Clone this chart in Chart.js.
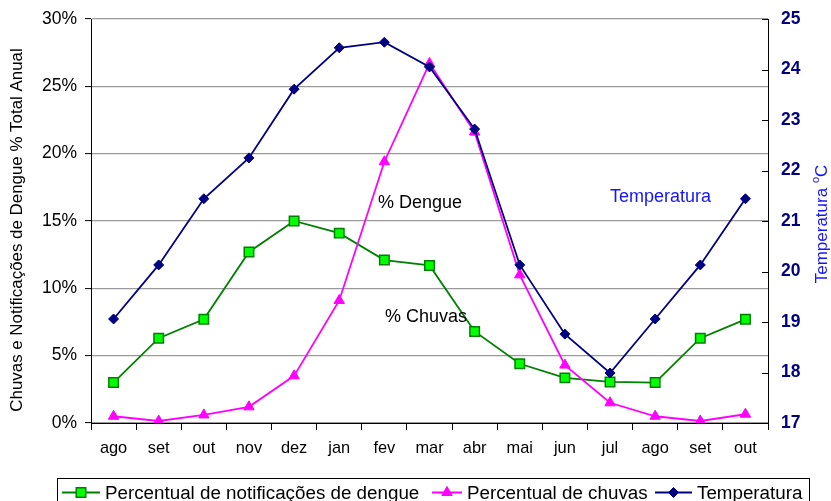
<!DOCTYPE html>
<html>
<head>
<meta charset="utf-8">
<script src="https://cdn.jsdelivr.net/npm/chart.js@4/dist/chart.umd.min.js"></script>
<style>
  html, body { margin: 0; padding: 0; background: #ffffff; }
  #wrap { width: 831px; height: 501px; position: relative; }
</style>
</head>
<body>
<div id="wrap"><canvas id="chart" width="831" height="501"></canvas></div>
<script>
// Months from August to October of the following year
const months = ['ago', 'set', 'out', 'nov', 'dez', 'jan', 'fev', 'mar', 'abr', 'mai', 'jun', 'jul', 'ago', 'set', 'out'];

// Share of the yearly total (%)
const dengue = [3.0, 6.3, 7.7, 12.7, 15.0, 14.1, 12.1, 11.7, 6.8, 4.4, 3.35, 3.05, 3.0, 6.3, 7.7];
const chuvas = [0.5, 0.15, 0.6, 1.2, 3.5, 9.1, 19.4, 26.7, 21.6, 11.0, 4.3, 1.5, 0.5, 0.15, 0.65];

// Mean monthly temperature (°C)
const temperatura = [19.06, 20.13, 21.44, 22.25, 23.61, 24.43, 24.54, 24.05, 22.82, 20.13, 18.76, 17.99, 19.06, 20.13, 21.44];

// Axis ranges
const pctRange = [0, 30, 5];
const tempRange = [17, 25, 1];

const seriesNames = ['Percentual de notificações de dengue', 'Percentual de chuvas', 'Temperatura'];

const FONT = "'Liberation Sans', Arial, sans-serif";
const GREEN = '#008000', LIME = '#00ff00', MAGENTA = '#ff00ff', NAVY = '#000080', BLUE = '#1414ff';

// Draws a series marker the same way the chart does
function marker(ctx, style, x, y, r, fill, stroke, lw) {
  ctx.save();
  ctx.fillStyle = fill; ctx.strokeStyle = stroke; ctx.lineWidth = lw;
  Chart.helpers.drawPoint(ctx, { pointStyle: style, rotation: 0, radius: r, borderWidth: lw }, x, y);
  ctx.restore();
}

// Keeps the plot box fixed: no extra room reserved for half-labels
function noPad(s) {
  s.paddingTop = 0; s.paddingBottom = 0; s.paddingLeft = 0; s.paddingRight = 0;
}

const extras = {
  id: 'extras',
  afterDraw(chart) {
    const ctx = chart.ctx;
    const area = chart.chartArea;
    const y1 = chart.scales.y1;

    // inner tick marks on the temperature axis
    ctx.save();
    ctx.strokeStyle = '#000'; ctx.lineWidth = 1;
    y1.ticks.forEach(t => {
      const py = Math.round(y1.getPixelForValue(t.value)) + 0.5;
      ctx.beginPath(); ctx.moveTo(area.right - 6, py); ctx.lineTo(area.right + 1, py); ctx.stroke();
    });
    ctx.restore();

    // left axis title, reading upwards
    ctx.save();
    ctx.translate(17, 230);
    ctx.rotate(-Math.PI / 2);
    ctx.fillStyle = '#000';
    ctx.textAlign = 'center';
    ctx.textBaseline = 'middle';
    ctx.font = '16.9px ' + FONT;
    ctx.fillText('Chuvas e Notificações de Dengue % Total Anual', 0, 0);
    ctx.restore();

    // temperature axis title, reading upwards
    ctx.save();
    ctx.translate(822, 224);
    ctx.rotate(-Math.PI / 2);
    ctx.fillStyle = BLUE;
    ctx.textBaseline = 'middle';
    ctx.font = '17px ' + FONT;
    const base = 'Temperatura ';
    const wBase = ctx.measureText(base).width;
    ctx.font = '11px ' + FONT;
    const wO = ctx.measureText('o').width;
    ctx.font = '17px ' + FONT;
    const wC = ctx.measureText('C').width;
    const sx = -(wBase + wO + wC) / 2;
    ctx.textAlign = 'left';
    ctx.fillText(base, sx, 0);
    ctx.font = '11px ' + FONT;
    ctx.fillText('o', sx + wBase, -6);
    ctx.font = '17px ' + FONT;
    ctx.fillText('C', sx + wBase + wO, 0);
    ctx.restore();

    // series captions inside the plot
    ctx.save();
    ctx.font = '18px ' + FONT;
    ctx.textAlign = 'left';
    ctx.textBaseline = 'alphabetic';
    ctx.fillStyle = '#000';
    ctx.fillText('% Dengue', 378, 208);
    ctx.fillText('% Chuvas', 385, 322);
    ctx.fillStyle = BLUE;
    ctx.fillText('Temperatura', 610, 202);
    ctx.restore();

    // legend
    ctx.save();
    ctx.strokeStyle = '#000'; ctx.lineWidth = 1;
    ctx.strokeRect(57.5, 478.5, 752, 30);
    ctx.font = '18.8px ' + FONT;
    ctx.textBaseline = 'middle';
    const ly = 492.5;
    const items = [
      { color: GREEN, style: 'rect', r: 6.7, fill: LIME, stroke: GREEN, lw: 1.5, x0: 62, x1: 100, tx: 105 },
      { color: MAGENTA, style: 'triangle', r: 6, fill: MAGENTA, stroke: MAGENTA, lw: 1, x0: 432, x1: 462, tx: 467 },
      { color: NAVY, style: 'rectRot', r: 5, fill: NAVY, stroke: NAVY, lw: 1, x0: 655, x1: 692, tx: 697 }
    ];
    items.forEach((it, i) => {
      ctx.strokeStyle = it.color; ctx.lineWidth = 2;
      ctx.beginPath(); ctx.moveTo(it.x0, ly); ctx.lineTo(it.x1, ly); ctx.stroke();
      marker(ctx, it.style, (it.x0 + it.x1) / 2, ly, it.r, it.fill, it.stroke, it.lw);
      ctx.fillStyle = '#000';
      ctx.fillText(seriesNames[i], it.tx, ly + 1);
    });
    ctx.restore();
  }
};

new Chart(document.getElementById('chart'), {
  type: 'line',
  data: {
    labels: months,
    datasets: [
      {
        label: seriesNames[0], data: dengue, yAxisID: 'y',
        borderColor: GREEN, borderWidth: 1.8, backgroundColor: LIME,
        pointStyle: 'rect', pointRadius: 6.7, pointBorderColor: GREEN, pointBorderWidth: 1.5,
        pointBackgroundColor: LIME, tension: 0, order: 3
      },
      {
        label: seriesNames[1], data: chuvas, yAxisID: 'y',
        borderColor: MAGENTA, borderWidth: 1.8, backgroundColor: MAGENTA,
        pointStyle: 'triangle', pointRadius: 6, pointBorderColor: MAGENTA, pointBorderWidth: 1,
        pointBackgroundColor: MAGENTA, tension: 0, order: 2
      },
      {
        label: seriesNames[2], data: temperatura, yAxisID: 'y1',
        borderColor: NAVY, borderWidth: 1.8, backgroundColor: NAVY,
        pointStyle: 'rectRot', pointRadius: 5, pointBorderColor: NAVY, pointBorderWidth: 1,
        pointBackgroundColor: NAVY, tension: 0, order: 1
      }
    ]
  },
  options: {
    responsive: false,
    animation: false,
    devicePixelRatio: 1,
    layout: { padding: { top: 19, left: 0, right: 0, bottom: 0 } },
    plugins: { legend: { display: false }, tooltip: { enabled: false } },
    scales: {
      x: {
        offset: true,
        grid: { offset: true, drawOnChartArea: false, drawTicks: true, tickLength: 7, tickColor: '#000' },
        border: { color: '#000', width: 1 },
        ticks: { color: '#000', font: { family: FONT, size: 16.4 }, padding: 9, maxRotation: 0, autoSkip: false },
        afterFit: s => { s.height = 78; noPad(s); }
      },
      y: {
        position: 'left',
        min: pctRange[0], max: pctRange[1],
        ticks: { stepSize: pctRange[2], color: '#000', font: { family: FONT, size: 17.5 }, padding: 8,
                 callback: v => v + '%' },
        grid: { color: '#9a9a9a', lineWidth: 1.2, tickLength: 6, tickColor: '#000', tickWidth: 1 },
        border: { color: '#000', width: 1 },
        afterFit: s => { s.width = 91; noPad(s); }
      },
      y1: {
        position: 'right',
        min: tempRange[0], max: tempRange[1],
        ticks: { stepSize: tempRange[2], color: NAVY, font: { family: FONT, size: 17.5, weight: 'bold' }, padding: 13 },
        grid: { drawOnChartArea: false, drawTicks: false },
        border: { color: '#000', width: 1 },
        afterFit: s => { s.width = 63; noPad(s); }
      }
    }
  },
  plugins: [extras]
});
</script>
</body>
</html>
